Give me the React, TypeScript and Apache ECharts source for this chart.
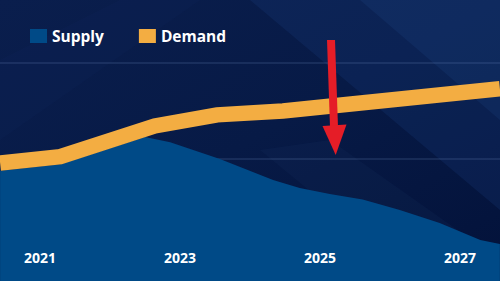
import React, { useEffect, useRef } from "react";
import * as echarts from "echarts";

// x as decimal years, y in index units
const supplyYears = [2020.43, 2021.29, 2022.5, 2022.86, 2023.57, 2024.33, 2024.71, 2025.14, 2025.61, 2026.14, 2026.71, 2027.29, 2027.57];
const supplyValues = [18.78, 19.45, 22.29, 21.74, 20.0, 17.81, 16.98, 16.35, 15.77, 14.69, 13.33, 11.56, 11.15];
const demandYears = [2020.43, 2021.29, 2022.64, 2023.53, 2024.47, 2027.57];
const demandValues = [19.58, 20.24, 23.44, 24.6, 25.0, 27.32];
const yearLabels = [2021, 2023, 2025, 2027];
const gridValues = [20, 30];
const seriesNames = ["Supply", "Demand"];
const X_MIN = 2020.4286;
const X_MAX = 2027.5714;

const FONT = "'Open Sans', sans-serif";

export default function App() {
  const ref = useRef<HTMLDivElement>(null);
  useEffect(() => {
    if (!ref.current) return;
    const chart = echarts.init(ref.current, null, { renderer: "svg" });
    const supplyData = supplyYears.map((x, i) => [x, supplyValues[i]]);
    const demandData = demandYears.map((x, i) => [x, demandValues[i]]);
    const gridSeries = gridValues.map((v) => ({
      name: "grid" + v, type: "line", z: 1, silent: true, symbol: "none",
      data: [[X_MIN, v], [X_MAX, v]],
      lineStyle: { color: "rgba(110,140,190,0.35)", width: 1 },
    }));
    chart.setOption({
      animation: false,
      backgroundColor: {
        type: "linear", x: 0, y: 0, x2: 1, y2: 1,
        colorStops: [
          { offset: 0, color: "#0a1e4d" },
          { offset: 0.5, color: "#071a46" },
          { offset: 1, color: "#03123a" },
        ],
      },
      graphic: {
        elements: [
          { type: "polygon", z: -100, silent: true, shape: { points: [[250, 0], [500, 0], [500, 210]] }, style: { fill: "rgba(30,70,140,0.2)" } },
          { type: "polygon", z: -100, silent: true, shape: { points: [[360, 0], [500, 0], [500, 120]] }, style: { fill: "rgba(40,90,160,0.14)" } },
          { type: "polygon", z: -100, silent: true, shape: { points: [[0, 60], [120, 0], [200, 0], [0, 140]] }, style: { fill: "rgba(20,45,100,0.14)" } },
          { type: "polygon", z: -100, silent: true, shape: { points: [[260, 150], [330, 140], [500, 260], [500, 281], [420, 281]] }, style: { fill: "rgba(30,60,110,0.13)" } },
          { type: "polygon", z: 100, silent: true, shape: { points: [[327, 40], [335, 40], [338, 127], [330, 127]] }, style: { fill: "#e51d27" } },
          { type: "polygon", z: 100, silent: true, shape: { points: [[322.5, 126], [346.5, 124.5], [335.7, 155]] }, style: { fill: "#e51d27" } },
        ],
      },
      legend: {
        left: 25, top: 23, icon: "rect", itemWidth: 17, itemHeight: 14, itemGap: 35,
        textStyle: { color: "#ffffff", fontSize: 15.5, fontWeight: "bold", fontFamily: FONT },
        data: seriesNames,
      },
      grid: { left: 0, right: 0, top: 0, bottom: 0 },
      xAxis: {
        type: "value", min: X_MIN, max: X_MAX, z: 10,
        axisLine: { show: false }, axisTick: { show: false }, splitLine: { show: false },
        axisLabel: {
          inside: true, margin: 24, verticalAlign: "middle", customValues: yearLabels,
          color: "#ffffff", fontSize: 14, fontWeight: "bold", fontFamily: FONT,
          formatter: (v: number) => String(v),
        },
      },
      yAxis: {
        type: "value", min: 7.2917, max: 36.5625,
        axisLine: { show: false }, axisTick: { show: false }, axisLabel: { show: false },
        splitLine: { show: false },
      },
      series: [
        ...gridSeries,
        {
          name: seriesNames[0], type: "line", data: supplyData, symbol: "none", z: 2,
          color: "#004a87",
          lineStyle: { width: 0 },
          areaStyle: { color: "#004a87", opacity: 1, origin: "start" },
        },
        {
          name: seriesNames[1], type: "line", data: demandData, symbol: "none", z: 3,
          color: "#f3ad42",
          lineStyle: { width: 15.5, color: "#f3ad42", cap: "butt", join: "miter" },
        },
      ],
    });
    return () => chart.dispose();
  }, []);
  return <div ref={ref} style={{ width: 500, height: 281, position: "absolute", left: 0, top: 0 }} />;
}
